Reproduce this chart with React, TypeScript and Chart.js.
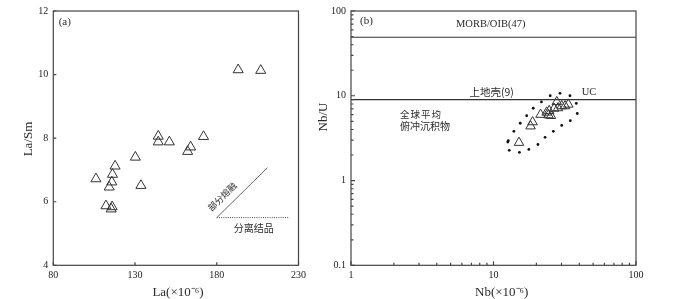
import React, { useEffect, useRef } from 'react';
import { Chart, registerables } from 'chart.js';

Chart.register(...registerables);

// ---------- Panel (a) data ----------
const laValues = [106.1, 112.2, 116.0, 115.4, 114.2, 115.8, 116.2, 117.8, 130.2, 133.6, 144.2, 144.2, 151.0, 162.2, 164.0, 171.9, 193.1, 206.9];
const laSmValues = [6.72, 5.87, 5.84, 5.77, 6.46, 6.62, 6.86, 7.12, 7.40, 6.51, 8.06, 7.88, 7.88, 7.58, 7.72, 8.05, 10.15, 10.13];
const meltLineX = [180, 211];
const meltLineY = [5.5, 7.07];
const fracLineX = [180, 224.5];
const fracLineY = [5.5, 5.5];
const aXTicks = [80, 130, 180, 230];
const aYTicks = [4, 6, 8, 10, 12];

// ---------- Panel (b) data ----------
const nbValues = [15.1, 18.2, 18.8, 21.4, 23.6, 24.3, 25.3, 26.6, 27.8, 30.1, 31.8, 33.5, 24.6, 28.4];
const nbUValues = [2.80, 4.38, 4.90, 6.0, 6.37, 5.92, 5.81, 7.08, 8.47, 7.57, 7.57, 7.91, 6.64, 7.18];
const fieldNb = [25.0, 29.3, 34.4, 21.7, 38.1, 38.7, 19.0, 17.1, 34.6, 15.4, 30.1, 13.9, 26.3, 12.7, 12.6, 23.0, 20.5, 17.7, 15.2, 12.9];
const fieldNbU = [10.0, 10.7, 10.0, 8.47, 8.12, 6.18, 7.12, 5.81, 5.09, 4.74, 4.47, 3.81, 3.81, 2.95, 2.85, 3.23, 2.66, 2.33, 2.15, 2.27];
const morbNbU = 49;
const ucNbU = 9;
const bXTicks = [1, 10, 100];
const bYTicks = [0.1, 1, 10, 100];

const SERIF = '"Liberation Serif", "Times New Roman", serif';
const CJK = '"Noto Sans CJK SC", sans-serif';
const AXIS = '#444';
const INK = '#2a2a2a';

const zip = (xs: number[], ys: number[]) => xs.map((x, i) => ({ x, y: ys[i] }));

function drawText(ctx: CanvasRenderingContext2D, text: string, x: number, y: number, font: string, align: CanvasTextAlign = 'center', rot = 0) {
  ctx.save();
  ctx.translate(x, y);
  if (rot) ctx.rotate(rot);
  ctx.font = font;
  ctx.fillStyle = INK;
  ctx.textAlign = align;
  ctx.textBaseline = 'middle';
  ctx.fillText(text, 0, 0);
  ctx.restore();
}

const panelAPlugin = {
  id: 'panelA',
  afterDraw(chart: any) {
    const ctx = chart.ctx as CanvasRenderingContext2D;
    const { left, right, top, bottom } = chart.chartArea;
    const xs = chart.scales.x;
    const ys = chart.scales.y;
    ctx.save();
    ctx.strokeStyle = AXIS;
    ctx.lineWidth = 1.2;
    ctx.strokeRect(left, top, right - left, bottom - top);
    ctx.beginPath();
    aXTicks.forEach((v) => {
      const px = xs.getPixelForValue(v);
      ctx.moveTo(px, bottom);
      ctx.lineTo(px, bottom - 3);
    });
    aYTicks.forEach((v) => {
      const py = ys.getPixelForValue(v);
      ctx.moveTo(left, py);
      ctx.lineTo(left + 3, py);
    });
    ctx.stroke();
    ctx.restore();

    drawText(ctx, '(a)', left + 11.5, top + 11, `11px ${SERIF}`);
    drawText(ctx, '部分熔融', xs.getPixelForValue(183.3), ys.getPixelForValue(6.16), `9px ${CJK}`, 'center', -Math.PI / 4);
    drawText(ctx, '分离结品', xs.getPixelForValue(202.6), ys.getPixelForValue(5.17), `10px ${CJK}`);
    drawText(ctx, 'La(×10⁻⁶)', 178, 292.5, `13px ${SERIF}`);
    drawText(ctx, 'La/Sm', 28.5, 139, `13px ${SERIF}`, 'center', -Math.PI / 2);
  },
};

const panelBPlugin = {
  id: 'panelB',
  afterDraw(chart: any) {
    const ctx = chart.ctx as CanvasRenderingContext2D;
    const { left, right, top, bottom } = chart.chartArea;
    const xs = chart.scales.x;
    const ys = chart.scales.y;
    ctx.save();
    ctx.strokeStyle = AXIS;
    ctx.lineWidth = 1.2;
    ctx.strokeRect(left, top, right - left, bottom - top);
    ctx.beginPath();
    for (let d = 0; d < bXTicks.length; d++) {
      const base = bXTicks[d];
      const px = xs.getPixelForValue(base);
      ctx.moveTo(px, bottom);
      ctx.lineTo(px, bottom - 4);
      if (d < bXTicks.length - 1) {
        for (let m = 2; m <= 9; m++) {
          const p = xs.getPixelForValue(base * m);
          ctx.moveTo(p, bottom);
          ctx.lineTo(p, bottom - 2.5);
        }
      }
    }
    for (let d = 0; d < bYTicks.length; d++) {
      const base = bYTicks[d];
      const py = ys.getPixelForValue(base);
      ctx.moveTo(left, py);
      ctx.lineTo(left + 4, py);
      if (d < bYTicks.length - 1) {
        for (let m = 2; m <= 9; m++) {
          const p = ys.getPixelForValue(base * m);
          ctx.moveTo(left, p);
          ctx.lineTo(left + 2.5, p);
        }
      }
    }
    ctx.stroke();
    ctx.restore();

    drawText(ctx, '(b)', left + 15.5, top + 10, `11px ${SERIF}`);
    drawText(ctx, 'MORB/OIB(47)', xs.getPixelForValue(9.56), ys.getPixelForValue(69.2), `10.5px ${SERIF}`);
    drawText(ctx, '上地壳(9)', xs.getPixelForValue(9.71), ys.getPixelForValue(11.2), `10.5px ${CJK}`);
    drawText(ctx, 'UC', xs.getPixelForValue(46.8), ys.getPixelForValue(10.9), `10.5px ${SERIF}`);
    ctx.save();
    (ctx as any).letterSpacing = '1px';
    drawText(ctx, '全球平均', xs.getPixelForValue(2.21), ys.getPixelForValue(5.97), `9.5px ${CJK}`, 'left');
    ctx.restore();
    drawText(ctx, '俯冲沉积物', xs.getPixelForValue(2.21), ys.getPixelForValue(4.35), `10px ${CJK}`, 'left');
    drawText(ctx, 'Nb(×10⁻⁶)', 191.7, 292.5, `13px ${SERIF}`);
    drawText(ctx, 'Nb/U', 13.5, 117, `13px ${SERIF}`, 'center', -Math.PI / 2);
  },
};

const tickFont = { family: SERIF, size: 10 };

function makeA(canvas: HTMLCanvasElement) {
  return new Chart(canvas, {
    type: 'scatter',
    data: {
      datasets: [
        {
          data: zip(laValues, laSmValues),
          pointStyle: 'triangle',
          pointRadius: 5.8,
          borderColor: '#333',
          borderWidth: 1,
          backgroundColor: 'rgba(0,0,0,0)',
        },
        {
          data: zip(meltLineX, meltLineY),
          showLine: true,
          borderColor: '#444',
          borderWidth: 0.8,
          pointRadius: 0,
        },
        {
          data: zip(fracLineX, fracLineY),
          showLine: true,
          borderColor: '#444',
          borderWidth: 1,
          borderDash: [1, 1.2],
          pointRadius: 0,
        },
      ] as any,
    },
    options: {
      responsive: false,
      animation: false,
      layout: { padding: { left: 0, right: 10, top: 2, bottom: 0 } },
      plugins: { legend: { display: false }, tooltip: { enabled: false } },
      scales: {
        x: {
          type: 'linear',
          min: 80,
          max: 230,
          afterBuildTicks: (s: any) => { s.ticks = aXTicks.map((v) => ({ value: v })); },
          afterFit: (s: any) => { s.height = 33.7; },
          grid: { display: false, drawTicks: false },
          border: { display: false },
          ticks: { font: tickFont, color: '#222', padding: 4, autoSkip: false, maxRotation: 0 },
        },
        y: {
          type: 'linear',
          min: 4,
          max: 12,
          afterBuildTicks: (s: any) => { s.ticks = aYTicks.map((v) => ({ value: v })); },
          afterFit: (s: any) => { s.width = 53.3; },
          grid: { display: false, drawTicks: false },
          border: { display: false },
          ticks: { font: tickFont, color: '#222', padding: 5, autoSkip: false },
        },
      },
    } as any,
    plugins: [panelAPlugin],
  });
}

function makeB(canvas: HTMLCanvasElement) {
  return new Chart(canvas, {
    type: 'scatter',
    data: {
      datasets: [
        {
          data: zip(nbValues, nbUValues),
          pointStyle: 'triangle',
          pointRadius: 5.5,
          borderColor: '#333',
          borderWidth: 1,
          backgroundColor: 'rgba(0,0,0,0)',
        },
        {
          data: zip(fieldNb, fieldNbU),
          pointStyle: 'circle',
          pointRadius: 1.4,
          borderWidth: 0,
          backgroundColor: '#111',
        },
        {
          data: [{ x: 1, y: morbNbU }, { x: 100, y: morbNbU }],
          showLine: true,
          borderColor: '#333',
          borderWidth: 1.2,
          pointRadius: 0,
        },
        {
          data: [{ x: 1, y: ucNbU }, { x: 100, y: ucNbU }],
          showLine: true,
          borderColor: '#333',
          borderWidth: 1.2,
          pointRadius: 0,
        },
      ] as any,
    },
    options: {
      responsive: false,
      animation: false,
      layout: { padding: { left: 0, right: 64, top: 3, bottom: 0 } },
      plugins: { legend: { display: false }, tooltip: { enabled: false } },
      scales: {
        x: {
          type: 'logarithmic',
          min: 1,
          max: 100,
          afterBuildTicks: (s: any) => { s.ticks = bXTicks.map((v) => ({ value: v })); },
          afterFit: (s: any) => { s.height = 33.7; },
          grid: { display: false, drawTicks: false },
          border: { display: false },
          ticks: { font: tickFont, color: '#222', padding: 4, autoSkip: false, maxRotation: 0, callback: (v: any) => String(v) },
        },
        y: {
          type: 'logarithmic',
          min: 0.1,
          max: 100,
          afterBuildTicks: (s: any) => { s.ticks = bYTicks.map((v) => ({ value: v })); },
          afterFit: (s: any) => { s.width = 41; },
          grid: { display: false, drawTicks: false },
          border: { display: false },
          ticks: { font: tickFont, color: '#222', padding: 5, autoSkip: false, callback: (v: any) => String(v) },
        },
      },
    } as any,
    plugins: [panelBPlugin],
  });
}

export default function App() {
  const refA = useRef<HTMLCanvasElement>(null);
  const refB = useRef<HTMLCanvasElement>(null);
  useEffect(() => {
    const a = makeA(refA.current!);
    const b = makeB(refB.current!);
    return () => {
      a.destroy();
      b.destroy();
    };
  }, []);
  return (
    <div style={{ position: 'absolute', left: 0, top: 0, width: 700, height: 299, background: '#fff' }}>
      <canvas ref={refA} width={310} height={299} style={{ position: 'absolute', left: 0, top: 0 }} />
      <canvas ref={refB} width={390} height={299} style={{ position: 'absolute', left: 310, top: 0 }} />
    </div>
  );
}
